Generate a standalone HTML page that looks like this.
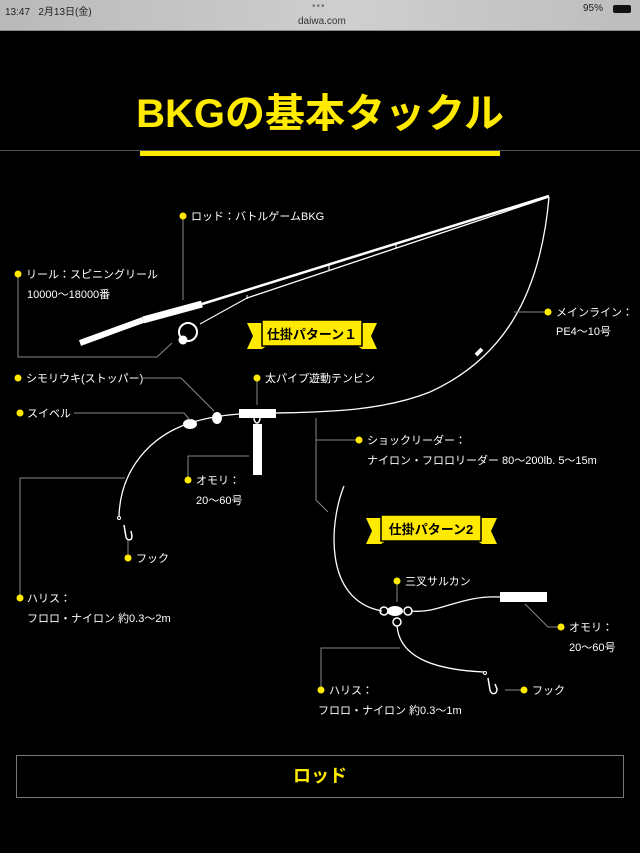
<!DOCTYPE html>
<html><head><meta charset="utf-8"><style>
html,body{margin:0;padding:0;background:#000;width:640px;height:853px;overflow:hidden;font-family:"Liberation Sans","Noto Sans CJK JP",sans-serif}
.top{position:absolute;left:0;top:0;width:640px;height:30px;background:linear-gradient(90deg,#b9b9b9,#cfcfcf 55%,#bdbdbd);border-bottom:1px solid #8a8a8a}
.top span{position:absolute;font-size:10px;color:#222}
svg{position:absolute;left:0;top:0}
.box{position:absolute;left:16px;top:755px;width:606px;height:41px;border:1px solid #777;color:#ffea00;font-weight:bold;font-size:18px;text-align:center;line-height:41px}
</style></head><body>
<div class="top">
<span style="left:5px;top:3px">13:47&nbsp;&nbsp; 2月13日(金)</span>
<span style="left:312px;top:1px;color:#777;letter-spacing:1px">•••</span>
<span style="left:298px;top:16px;color:#333">daiwa.com</span>
<span style="left:583px;top:3px">95%</span>
<span style="left:613px;top:5px;width:18px;height:8px;background:#111;border-radius:2px"></span>
</div>
<svg width="640" height="853" viewBox="0 0 640 853" font-family="Liberation Sans, Noto Sans CJK JP, sans-serif">
<text x="320" y="127" fill="#ffea00" font-size="40" font-weight="bold" text-anchor="middle">BKGの基本タックル</text>
<line x1="0" y1="150.5" x2="640" y2="150.5" stroke="#555" stroke-width="1"/>
<rect x="140" y="151" width="360" height="5" fill="#ffea00"/>

<g stroke="#fff" fill="none">
<!-- rod -->
<line x1="80" y1="343" x2="143" y2="320" stroke-width="6"/>
<line x1="143" y1="320" x2="202" y2="304" stroke-width="7"/>
<line x1="202" y1="304" x2="549" y2="196" stroke-width="2.5"/>
<line x1="200" y1="324" x2="247" y2="298" stroke-width="1"/>
<line x1="247" y1="298" x2="549" y2="197" stroke-width="1.3"/>
<line x1="247" y1="295" x2="247" y2="299" stroke-width="1"/>
<line x1="329" y1="264" x2="329" y2="270" stroke-width="1"/>
<line x1="396" y1="243" x2="396" y2="248" stroke-width="1"/>
<ellipse cx="188" cy="332" rx="9" ry="9" stroke-width="2"/>
<circle cx="183" cy="340" r="4" fill="#fff"/>
<!-- main line -->
<path d="M549 197 C540 300 500 360 430 392 C380 412 320 412 276 413" stroke-width="1.3"/>
<line x1="476" y1="355" x2="482" y2="349" stroke-width="4"/>
<!-- pattern 1 -->
<rect x="239" y="409" width="37" height="9" fill="#fff" stroke="none"/>
<path d="M239 414 C225 415 205 418 190 423 C150 436 120 470 119 517" stroke-width="1.3"/>
<ellipse cx="217" cy="418" rx="5" ry="6" fill="#fff" stroke="none"/>
<ellipse cx="190" cy="424" rx="7" ry="5" fill="#fff" stroke="none"/>
<ellipse cx="257" cy="418" rx="3" ry="5" stroke-width="1.5"/>
<rect x="253" y="424" width="9" height="51" fill="#fff" stroke="none"/>
<circle cx="119" cy="518" r="1.5" stroke-width="1"/>
<path d="M124 525 L126 537 C127 541 132 541 132 536 L131 531" stroke-width="1.5"/>
<!-- pattern 2 -->
<path d="M344 486 C330 520 322 600 382 611" stroke-width="1.3"/>
<path d="M411 611 C440 614 460 595 500 597" stroke-width="1.3"/>
<rect x="500" y="592" width="47" height="10" fill="#fff" stroke="none"/>
<ellipse cx="395" cy="611" rx="8" ry="5" fill="#fff" stroke="none"/>
<circle cx="384" cy="611" r="4" stroke-width="1.5"/>
<circle cx="408" cy="611" r="4" stroke-width="1.5"/>
<circle cx="397" cy="622" r="4" stroke-width="1.5"/>
<path d="M397 626 C400 660 440 670 484 672" stroke-width="1.3"/>
<circle cx="485" cy="673" r="1.5" stroke-width="1"/>
<path d="M488 678 L490 690 C491 695 497 695 497 689 L495 684" stroke-width="1.5"/>
</g>

<!-- leaders -->
<g stroke="#888" stroke-width="1" fill="none">
<polyline points="183,216 183,300"/>
<polyline points="18,274 18,357 157,357 172,343"/>
<polyline points="548,312 514,312"/>
<polyline points="143,378 181,378 214,411"/>
<polyline points="257,378 257,405"/>
<polyline points="74,413 184,413 190,420"/>
<polyline points="359,440 316,440"/>
<polyline points="316,418 316,500 328,512"/>
<polyline points="188,480 188,456 249,456"/>
<polyline points="128,558 128,540"/>
<polyline points="20,598 20,478 125,478"/>
<polyline points="397,581 397,602"/>
<polyline points="561,627 548,627 525,604"/>
<polyline points="524,690 505,690"/>
<polyline points="321,690 321,648 400,648"/>
</g>

<!-- banners -->
<g>
<polygon points="247,323 268,323 268,345 262,349 247,349 253,336" fill="#ffea00"/>
<polygon points="377,323 356,323 356,345 362,349 377,349 371,336" fill="#ffea00"/>
<rect x="262" y="320" width="100" height="26" fill="#ffea00" stroke="#000" stroke-width="1.5"/>
<text x="312" y="339" fill="#000" font-size="13" font-weight="bold" text-anchor="middle">仕掛パターン１</text>
<polygon points="366,518 387,518 387,540 381,544 366,544 372,531" fill="#ffea00"/>
<polygon points="497,518 476,518 476,540 482,544 497,544 491,531" fill="#ffea00"/>
<rect x="381" y="515" width="100" height="26" fill="#ffea00" stroke="#000" stroke-width="1.5"/>
<text x="431" y="534" fill="#000" font-size="13" font-weight="bold" text-anchor="middle">仕掛パターン2</text>
</g>

<!-- dots -->
<g fill="#ffea00">
<circle cx="183" cy="216" r="3.5"/><circle cx="18" cy="274" r="3.5"/><circle cx="548" cy="312" r="3.5"/>
<circle cx="18" cy="378" r="3.5"/><circle cx="257" cy="378" r="3.5"/><circle cx="20" cy="413" r="3.5"/>
<circle cx="359" cy="440" r="3.5"/><circle cx="188" cy="480" r="3.5"/><circle cx="128" cy="558" r="3.5"/>
<circle cx="20" cy="598" r="3.5"/><circle cx="397" cy="581" r="3.5"/><circle cx="561" cy="627" r="3.5"/>
<circle cx="524" cy="690" r="3.5"/><circle cx="321" cy="690" r="3.5"/>
</g>

<g fill="#fff" font-size="11">
<text x="191" y="220">ロッド：バトルゲームBKG</text>
<text x="26" y="278">リール：スピニングリール</text>
<text x="27" y="298">10000〜18000番</text>
<text x="556" y="316">メインライン：</text>
<text x="556" y="335">PE4〜10号</text>
<text x="26" y="382">シモリウキ(ストッパー)</text>
<text x="265" y="382">太パイプ遊動テンビン</text>
<text x="27" y="417">スイベル</text>
<text x="367" y="444">ショックリーダー：</text>
<text x="367" y="464">ナイロン・フロロリーダー 80〜200lb. 5〜15m</text>
<text x="196" y="484">オモリ：</text>
<text x="196" y="504">20〜60号</text>
<text x="136" y="562">フック</text>
<text x="27" y="602">ハリス：</text>
<text x="27" y="622">フロロ・ナイロン 約0.3〜2m</text>
<text x="405" y="585">三叉サルカン</text>
<text x="569" y="631">オモリ：</text>
<text x="569" y="651">20〜60号</text>
<text x="532" y="694">フック</text>
<text x="329" y="694">ハリス：</text>
<text x="318" y="714">フロロ・ナイロン 約0.3〜1m</text>
</g>
</svg>
<div class="box">ロッド</div>
</body></html>
